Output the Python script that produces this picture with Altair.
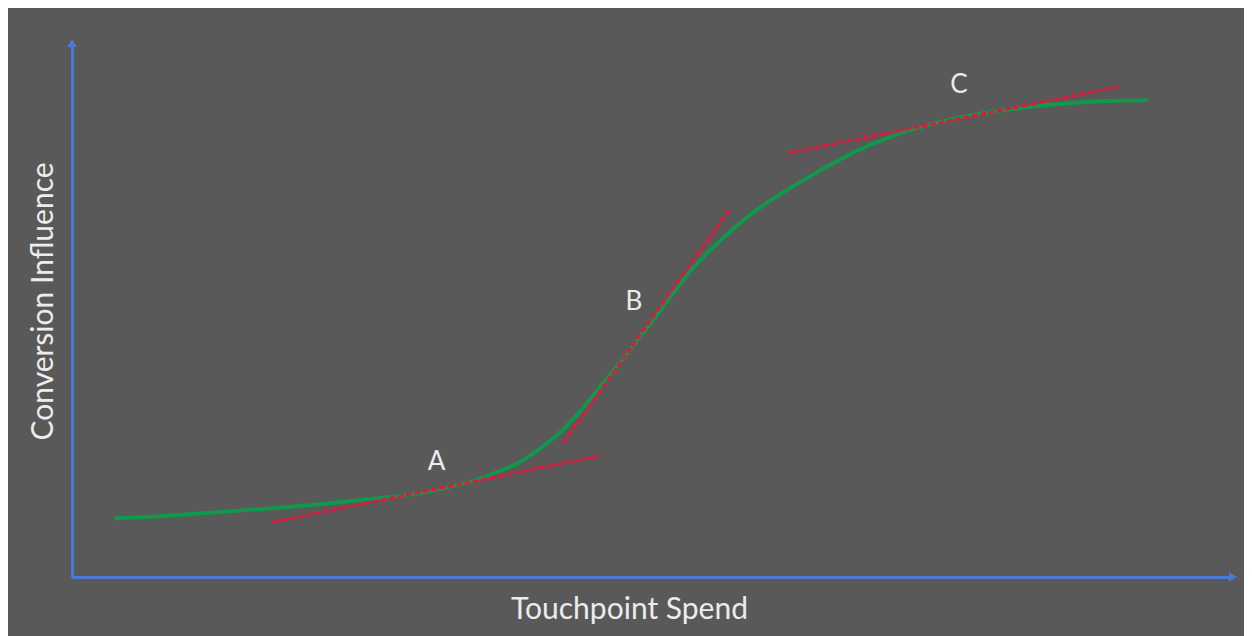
import altair as alt
import pandas as pd

# S-curve (green): spend vs conversion influence, in axis units 0-100
spend = [3.7, 7.6, 11.6, 16.2, 19.7, 23.1, 26.6, 30.0, 32.6, 35.2, 36.9, 38.4, 39.9,
         41.8, 43.8, 45.9, 47.8, 50.7, 53.5, 55.9, 58.4, 61.0, 64.5, 67.9, 71.4,
         76.6, 82.3, 87.8, 92.7]
influence = [11.0, 11.4, 12.0, 12.7, 13.3, 14.0, 14.8, 15.7, 16.9, 18.5, 19.9, 21.3, 23.4,
             26.6, 31.1, 36.7, 41.8, 50.0, 57.9, 63.1, 67.8, 71.7, 76.2, 80.1, 83.1,
             86.1, 88.0, 89.0, 89.3]

# Tangent lines (red, dashed)
tangent_id = ["A", "A", "B", "B", "C", "C"]
tangent_x = [17.3, 45.5, 42.3, 56.6, 61.7, 90.1]
tangent_y = [10.3, 22.7, 25.1, 68.7, 79.4, 91.8]

# Point labels
label_text = ["A", "B", "C"]
label_x = [31.4, 48.4, 76.4]
label_y = [21.5, 51.5, 92.2]

# Axis arrow heads
arrow_x = [0, 100]
arrow_y = [100, 0]
arrow_shape = ["triangle-up", "triangle-right"]

BG = "#595959"
BLUE = "#4a78d6"
GREEN = "#0e9a4c"
RED = "#e3173e"
TXT = "#ececec"
FONT = "Lato"

curve = pd.DataFrame({"x": spend, "y": influence})
tang = pd.DataFrame({"id": tangent_id, "x": tangent_x, "y": tangent_y})
labels = pd.DataFrame({"t": label_text, "x": label_x, "y": label_y})
arrows = pd.DataFrame({"x": arrow_x, "y": arrow_y, "s": arrow_shape})

xs = alt.Scale(domain=[0, 100], nice=False, zero=False)
ys = alt.Scale(domain=[0, 100], nice=False, zero=False)

xaxis = alt.Axis(title="Touchpoint Spend", labels=False, ticks=False, grid=False,
                 domainColor=BLUE, domainWidth=3, titleColor=TXT, titleFont=FONT,
                 titleFontSize=30, titleFontWeight="normal", titlePadding=17,
                 titleX=557, titleAlign="center")
yaxis = alt.Axis(title="Conversion Influence", labels=False, ticks=False, grid=False,
                 domainColor=BLUE, domainWidth=3, titleColor=TXT, titleFont=FONT,
                 titleFontSize=30, titleFontWeight="normal", titlePadding=14,
                 titleY=258, titleAlign="center")

green = alt.Chart(curve).mark_line(color=GREEN, strokeWidth=3.8, interpolate="monotone").encode(
    x=alt.X("x:Q", scale=xs, axis=xaxis),
    y=alt.Y("y:Q", scale=ys, axis=yaxis),
)

red = alt.Chart(tang).mark_line(color=RED, strokeWidth=3, strokeDash=[6, 2.5]).encode(
    x=alt.X("x:Q", scale=xs),
    y=alt.Y("y:Q", scale=ys),
    detail="id:N",
)

text = alt.Chart(labels).mark_text(color=TXT, font=FONT, fontSize=26).encode(
    x=alt.X("x:Q", scale=xs),
    y=alt.Y("y:Q", scale=ys),
    text="t:N",
)

heads = alt.Chart(arrows).mark_point(filled=True, color=BLUE, size=90, opacity=1).encode(
    x=alt.X("x:Q", scale=xs),
    y=alt.Y("y:Q", scale=ys),
    shape=alt.Shape("s:N", scale=None),
)

chart = alt.layer(green, red, text, heads).properties(
    width=1161,
    height=534,
    background=BG,
    padding={"left": 64, "top": 35, "right": 11, "bottom": 59},
    autosize=alt.AutoSizeParams(type="none"),
).configure_view(stroke=None, fill=BG)

chart.save("out.html", embed_options={"renderer": "svg", "actions": False})
